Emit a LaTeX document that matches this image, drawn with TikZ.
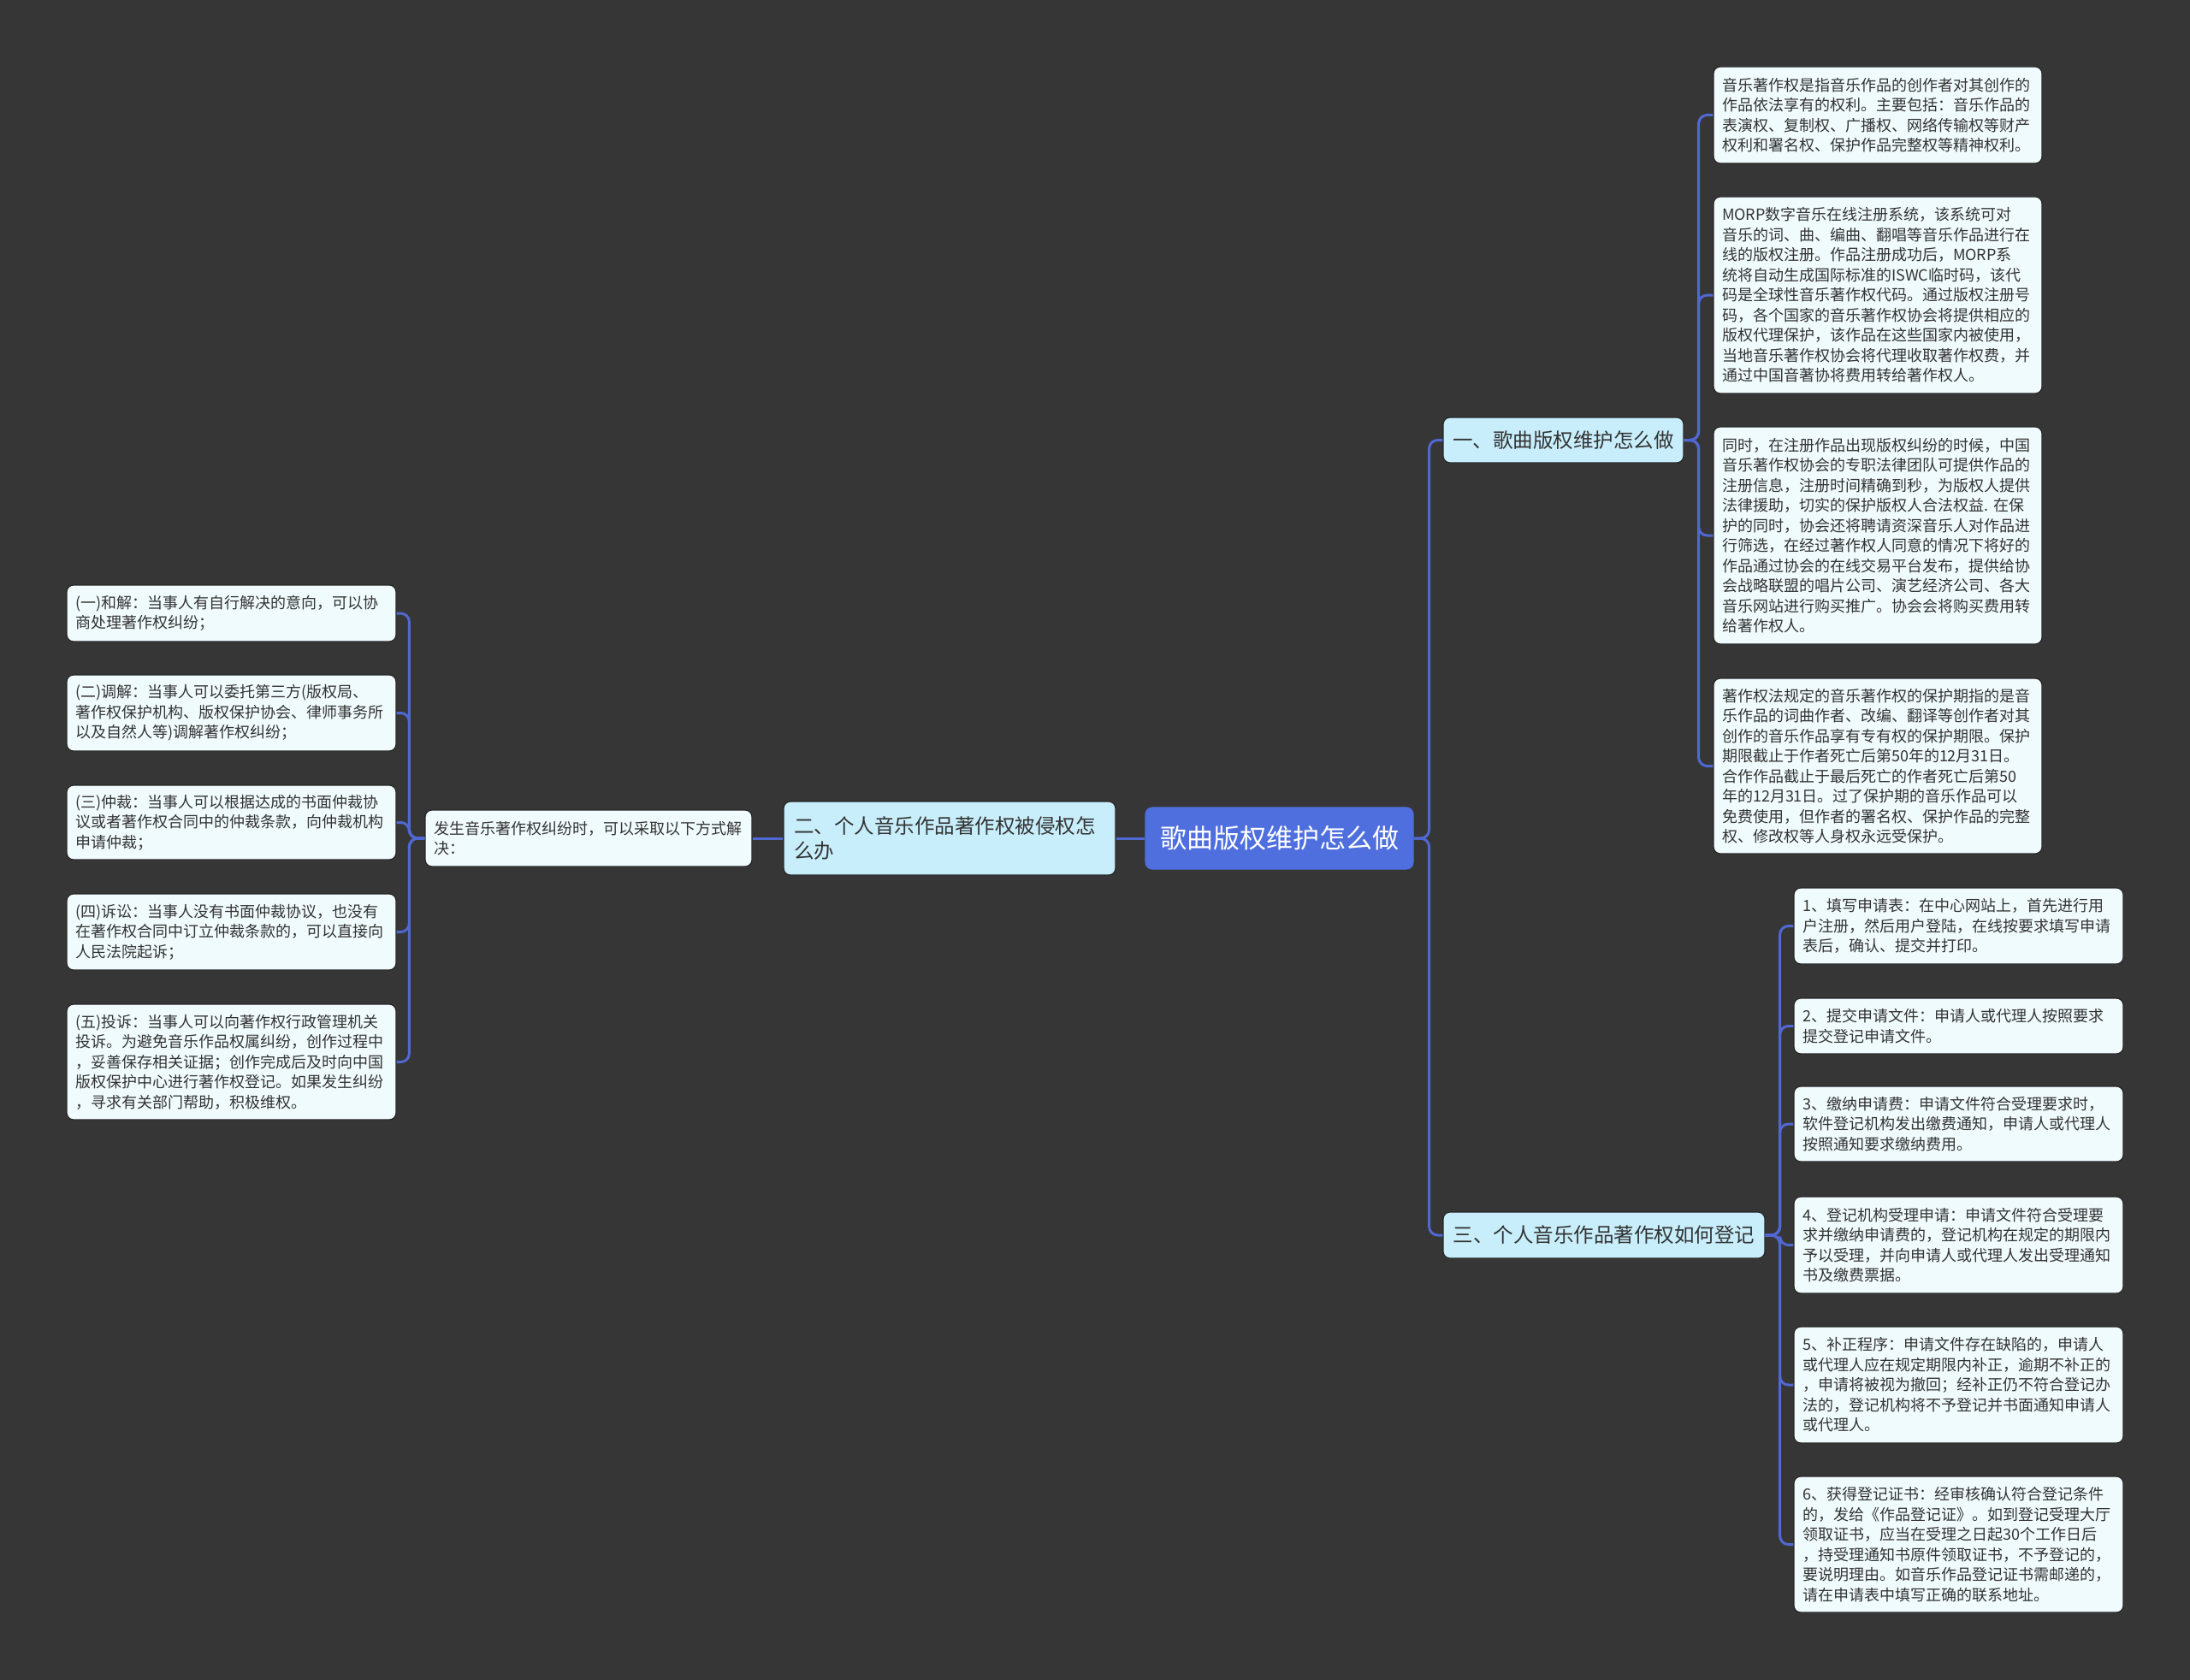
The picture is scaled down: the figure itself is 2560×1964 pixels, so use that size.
\documentclass[tikz,border=0pt]{standalone}
\usepackage{fontspec}
\setmainfont{Noto Sans CJK SC}
\definecolor{bg}{HTML}{363637}
\definecolor{conn}{HTML}{5068D2}
\definecolor{rootfill}{HTML}{4F6FDE}
\definecolor{lonefill}{HTML}{C8EEFB}
\definecolor{leaffill}{HTML}{F0FBFD}
\definecolor{txt}{HTML}{333333}
\definecolor{edge}{HTML}{262626}
\tikzset{
  basebox/.style={draw=edge, line width=1.2pt, rounded corners=8pt, inner ysep=0pt, text=txt},
  leaf/.style={basebox, fill=leaffill, inner xsep=10pt, align=left,
     font=\fontsize{18}{23.5}\selectfont},
  lone/.style={basebox, fill=lonefill, inner xsep=11pt,
     font=\fontsize{23.5}{29}\selectfont},
  rootbox/.style={basebox, fill=rootfill, text=white, draw=rootfill,
     font=\fontsize{31}{36}\selectfont},
  link/.style={draw=conn, line width=3pt, rounded corners=10pt}
}
\begin{document}
\begin{tikzpicture}[x=1pt,y=-1pt]
\path[fill=bg] (0,0) rectangle (2560,1964);
\useasboundingbox (0,0) rectangle (2560,1964);

% root and level one
\node[rootbox, minimum width=313pt, minimum height=72pt] (root) at (1495.5,980) {歌曲版权维护怎么做};
\node[lone, minimum width=281pt, minimum height=53pt] (n1) at (1827.5,514.5) {一、歌曲版权维护怎么做};
\node[lone, minimum width=376pt, minimum height=54pt] (n3) at (1875,1444) {三、个人音乐作品著作权如何登记};
\node[lone, align=left, inner xsep=12pt, text width=364pt, minimum height=86pt] (n2) at (1110,980) {二、个人音乐作品著作权被侵权怎\\么办};
\node[leaf, text width=362pt, minimum height=66pt] (fa) at (688,980) {发生音乐著作权纠纷时，可以采取以下方式解\\决：};

% right leaves of n1
\node[leaf, text width=364pt, minimum height=113pt] (r1) at (2195,134.5) {音乐著作权是指音乐作品的创作者对其创作的\\作品依法享有的权利。主要包括：音乐作品的\\表演权、复制权、广播权、网络传输权等财产\\权利和署名权、保护作品完整权等精神权利。};
\node[leaf, text width=364pt, minimum height=230pt] (r2) at (2195,345) {MORP数字音乐在线注册系统，该系统可对\\音乐的词、曲、编曲、翻唱等音乐作品进行在\\线的版权注册。作品注册成功后，MORP系\\统将自动生成国际标准的ISWC临时码，该代\\码是全球性音乐著作权代码。通过版权注册号\\码，各个国家的音乐著作权协会将提供相应的\\版权代理保护，该作品在这些国家内被使用，\\当地音乐著作权协会将代理收取著作权费，并\\通过中国音著协将费用转给著作权人。};
\node[leaf, text width=364pt, minimum height=254pt] (r3) at (2195,626) {同时，在注册作品出现版权纠纷的时候，中国\\音乐著作权协会的专职法律团队可提供作品的\\注册信息，注册时间精确到秒，为版权人提供\\法律援助，切实的保护版权人合法权益.~在保\\护的同时，协会还将聘请资深音乐人对作品进\\行筛选，在经过著作权人同意的情况下将好的\\作品通过协会的在线交易平台发布，提供给协\\会战略联盟的唱片公司、演艺经济公司、各大\\音乐网站进行购买推广。协会会将购买费用转\\给著作权人。};
\node[leaf, text width=364pt, minimum height=205pt] (r4) at (2195,895.5) {著作权法规定的音乐著作权的保护期指的是音\\乐作品的词曲作者、改编、翻译等创作者对其\\创作的音乐作品享有专有权的保护期限。保护\\期限截止于作者死亡后第50年的12月31日。\\合作作品截止于最后死亡的作者死亡后第50\\年的12月31日。过了保护期的音乐作品可以\\免费使用，但作者的署名权、保护作品的完整\\权、修改权等人身权永远受保护。};

% right leaves of n3
\node[leaf, text width=365pt, minimum height=89pt] (s1) at (2289.5,1082.5) {1、填写申请表：在中心网站上，首先进行用\\户注册，然后用户登陆，在线按要求填写申请\\表后，确认、提交并打印。};
\node[leaf, text width=365pt, minimum height=65pt] (s2) at (2289.5,1199.5) {2、提交申请文件：申请人或代理人按照要求\\提交登记申请文件。};
\node[leaf, text width=365pt, minimum height=88pt] (s3) at (2289.5,1314) {3、缴纳申请费：申请文件符合受理要求时，\\软件登记机构发出缴费通知，申请人或代理人\\按照通知要求缴纳费用。};
\node[leaf, text width=365pt, minimum height=113pt] (s4) at (2289.5,1455.5) {4、登记机构受理申请：申请文件符合受理要\\求并缴纳申请费的，登记机构在规定的期限内\\予以受理，并向申请人或代理人发出受理通知\\书及缴费票据。};
\node[leaf, text width=365pt, minimum height=136pt] (s5) at (2289.5,1619) {5、补正程序：申请文件存在缺陷的，申请人\\或代理人应在规定期限内补正，逾期不补正的\\，申请将被视为撤回；经补正仍不符合登记办\\法的，登记机构将不予登记并书面通知申请人\\或代理人。};
\node[leaf, text width=365pt, minimum height=159pt] (s6) at (2289.5,1805.5) {6、获得登记证书：经审核确认符合登记条件\\的，发给《作品登记证》。如到登记受理大厅\\领取证书，应当在受理之日起30个工作日后\\，持受理通知书原件领取证书，不予登记的，\\要说明理由。如音乐作品登记证书需邮递的，\\请在申请表中填写正确的联系地址。};

% left leaves
\node[leaf, text width=365pt, minimum height=66pt] (l1) at (270.5,717) {(一)和解：当事人有自行解决的意向，可以协\\商处理著作权纠纷；};
\node[leaf, text width=365pt, minimum height=89pt] (l2) at (270.5,833.5) {(二)调解：当事人可以委托第三方(版权局、\\著作权保护机构、版权保护协会、律师事务所\\以及自然人等)调解著作权纠纷；};
\node[leaf, text width=365pt, minimum height=87pt] (l3) at (270.5,961.5) {(三)仲裁：当事人可以根据达成的书面仲裁协\\议或者著作权合同中的仲裁条款，向仲裁机构\\申请仲裁；};
\node[leaf, text width=365pt, minimum height=89pt] (l4) at (270.5,1089.5) {(四)诉讼：当事人没有书面仲裁协议，也没有\\在著作权合同中订立仲裁条款的，可以直接向\\人民法院起诉；};
\node[leaf, text width=365pt, minimum height=135pt] (l5) at (270.5,1241.5) {(五)投诉：当事人可以向著作权行政管理机关\\投诉。为避免音乐作品权属纠纷，创作过程中\\，妥善保存相关证据；创作完成后及时向中国\\版权保护中心进行著作权登记。如果发生纠纷\\，寻求有关部门帮助，积极维权。};

% connectors
\begin{scope}[on background layer/.style={}]
\foreach \c in {n1,n3} \draw[link] (root.east) -- ++(18,0) |- (\c.west);
\draw[link] (root.west) -- (n2.east);
\draw[link] (n2.west) -- (fa.east);
\foreach \c in {l1,l2,l3,l4,l5} \draw[link] (fa.west) -- ++(-18,0) |- (\c.east);
\foreach \c in {r1,r2,r3,r4} \draw[link] (n1.east) -- ++(17,0) |- (\c.west);
\foreach \c in {s1,s2,s3,s4,s5,s6} \draw[link] (n3.east) -- ++(17,0) |- (\c.west);
\end{scope}
\end{tikzpicture}
\end{document}
